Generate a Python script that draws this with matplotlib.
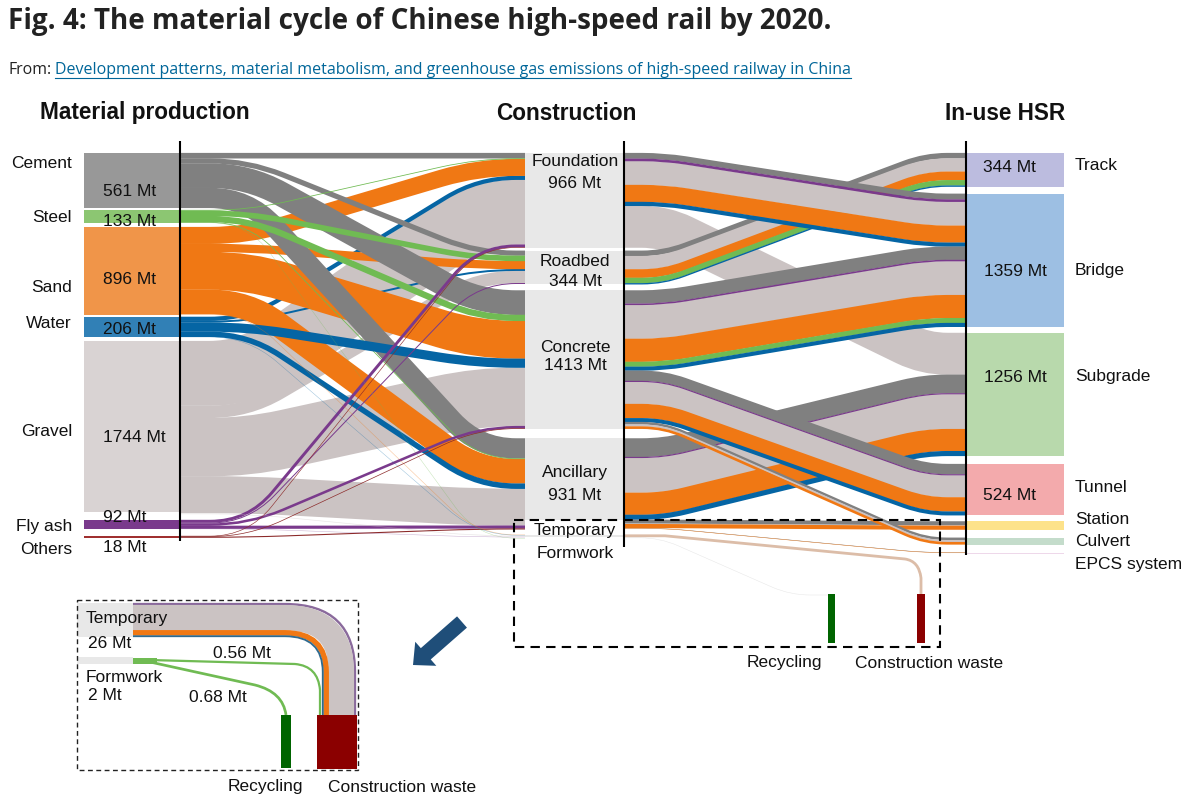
import matplotlib
matplotlib.use("Agg")
import numpy as np
import matplotlib.pyplot as plt
from matplotlib.path import Path
from matplotlib.patches import PathPatch, Rectangle, FancyArrow

# ---------- data (Mt) ----------
materials = ["Cement", "Steel", "Sand", "Water", "Gravel", "Fly ash", "Others"]
material_totals = [561, 133, 896, 206, 1744, 92, 18]
components = ["Foundation", "Roadbed", "Concrete", "Ancillary", "Temporary", "Formwork"]
component_totals = [966, 344, 1413, 931, 26, 2]
component_box_mt = [966, 344, 1413, 830, 26, 2]
elements = ["Track", "Bridge", "Subgrade", "Tunnel", "Station", "Culvert", "EPCS system"]
element_totals = [344, 1359, 1256, 524, 85, 70, 4]
element_value_labels = ["344 Mt", "1359 Mt", "1256 Mt", "524 Mt"]

# material -> component flows (columns follow `components`)
cement_flows = [55, 51, 250, 205, 0, 0]
steel_flows = [6, 55, 62, 6, 0, 2]
sand_flows = [172, 82, 385, 250, 6, 0]
water_flows = [41, 18, 92, 54, 1, 0]
gravel_flows = [660, 125, 595, 375, 17, 0]
flyash_flows = [28, 8, 24, 30, 2, 0]
others_flows = [4, 0, 5, 9, 0, 0]

# component -> element flows, each: (component, element, {material: Mt})
use_flows = [
    ("Foundation", "Bridge", {"Cement": 58, "Fly ash": 25, "Gravel": 243, "Sand": 173, "Water": 41}),
    ("Foundation", "Subgrade", {"Gravel": 426}),
    ("Roadbed", "Track", {"Cement": 55, "Gravel": 135, "Sand": 87, "Steel": 55, "Water": 12}),
    ("Concrete", "Bridge", {"Cement": 135, "Fly ash": 14, "Gravel": 345, "Sand": 235, "Steel": 50, "Water": 40}),
    ("Concrete", "Tunnel", {"Cement": 105, "Fly ash": 10, "Gravel": 225, "Sand": 145, "Water": 39}),
    ("Concrete", "Culvert", {"Cement": 25, "Gravel": 20, "Sand": 25}),
    ("Ancillary", "Subgrade", {"Cement": 190, "Fly ash": 10, "Gravel": 355, "Sand": 225, "Water": 50}),
    ("Ancillary", "Station", {"Cement": 40, "Gravel": 5, "Sand": 40}),
    ("Ancillary", "EPCS system", {"Cement": 2, "Sand": 2}),
]
draw_order = [1, 2, 0, 3, 6, 4, 7, 5, 8]

inset_temp_names = ["Fly ash", "Gravel", "Sand", "Water"]
inset_temp_values = [1.6, 19.2, 4.0, 1.2]
inset_form_values = [0.56, 0.68]

# ---------- style ----------
flow_col = {"Cement": "#808080", "Steel": "#70bb53", "Sand": "#f07814", "Water": "#0565a4",
            "Gravel": "#cbc3c3", "Fly ash": "#7a3a8c", "Others": "#8c2a2a"}
node_col = {"Cement": "#989898", "Steel": "#8cc672", "Sand": "#f09549", "Water": "#3180b6",
            "Gravel": "#d9d3d3", "Fly ash": "#7a3a8c", "Others": "#a03030"}
elem_col = ["#bcbcdf", "#9dbfe3", "#b8d9ac", "#f3aaac", "#fde28a", "#c4dccb", "#eed8ea"]
comp_col = "#e8e8e8"
SCALE = 0.098  # px per Mt
PX = 0.72      # pt per px
Y0 = 153
XS0, XS1 = 84, 180
XC0, XC1 = 525, 624
XE0, XE1 = 966, 1064
src_gaps = [0, 2, 4, 2, 4, 8, 7]
comp_gaps = [0, 3, 6, 9.5, 5, 1]
elem_gaps = [0, 7, 6, 8, 6, 8, 8]

plt.rcParams["font.family"] = ["Liberation Sans", "DejaVu Sans"]
fig = plt.figure(figsize=(12, 8.02), dpi=100)
ax = fig.add_axes([0, 0, 1, 1])
ax.set_xlim(0, 1200)
ax.set_ylim(802, 0)
ax.axis("off")


def stack(totals, gaps, y0=Y0):
    tops, y = [], y0
    for t, g in zip(totals, gaps):
        y += g
        tops.append(y)
        y += t * SCALE
    return tops


def centerline(x0, y0, x1, y1, xa, xb, r):
    A = np.array([xa, y0], float)
    B = np.array([xb, y1], float)
    d = B - A
    L = np.hypot(*d)
    u = d / L
    r = min(r, L / 2, xa - x0, x1 - xb)
    v = [(x0, y0), (xa - r, y0), tuple(A), tuple(A + u * r), tuple(B - u * r), tuple(B), (xb + r, y1), (x1, y1)]
    c = [Path.MOVETO, Path.LINETO, Path.CURVE3, Path.CURVE3, Path.LINETO, Path.CURVE3, Path.CURVE3, Path.LINETO]
    return Path(v, c)


def stroke(path, color, w, z, alpha=1.0):
    ax.add_patch(PathPatch(path, fc="none", ec=color, lw=w * PX, capstyle="butt", joinstyle="round",
                           zorder=z, alpha=alpha))


flows_by_mat = dict(zip(materials, [cement_flows, steel_flows, sand_flows, water_flows,
                                    gravel_flows, flyash_flows, others_flows]))
src_tops = dict(zip(materials, stack(material_totals, src_gaps)))
comp_tops = dict(zip(components, stack(component_totals, comp_gaps)))
elem_tops = dict(zip(elements, stack(element_totals, elem_gaps)))

# node rectangles
for m, t in zip(materials, material_totals):
    ax.add_patch(Rectangle((XS0, src_tops[m]), XS1 - XS0, max(t * SCALE, 2), fc=node_col[m], ec="none", zorder=1))
for c, t in zip(components, component_box_mt):
    ax.add_patch(Rectangle((XC0, comp_tops[c]), XC1 - XC0, t * SCALE, fc=comp_col, ec="none", zorder=1))
for e, t, col in zip(elements, element_totals, elem_col):
    ax.add_patch(Rectangle((XE0, elem_tops[e]), XE1 - XE0, max(t * SCALE, 1), fc=col, ec="none", zorder=1))

# material -> component
left_y = {}
for c_i, c in enumerate(components):
    y = comp_tops[c]
    for m in materials:
        w = flows_by_mat[m][c_i] * SCALE
        left_y[(m, c)] = y + w / 2
        y += w
src_y = {}
for m in materials:
    y = src_tops[m]
    for c_i, c in enumerate(components):
        w = flows_by_mat[m][c_i] * SCALE
        src_y[(m, c)] = y + w / 2
        y += w

mat_z = {"Gravel": 2, "Sand": 3, "Cement": 4, "Steel": 5, "Water": 5.5, "Fly ash": 6, "Others": 6.5}
comp_z = {"Foundation": 0.0, "Roadbed": 0.1, "Ancillary": 0.2, "Concrete": 0.3, "Temporary": 0.4, "Formwork": 0.4}
for m in materials:
    for c_i, c in enumerate(components):
        v = flows_by_mat[m][c_i]
        if v <= 0:
            continue
        w = v * SCALE
        p = centerline(XS1, src_y[(m, c)], XC0, left_y[(m, c)], 248, 478, 38)
        z = mat_z[m] + comp_z[c]
        if m == "Water" and c == "Foundation":
            z = 2.9
        if m == "Water" and c == "Roadbed":
            z = 2.95
        if c in ("Temporary", "Formwork"):
            stroke(p, flow_col[m], max(min(w, 0.7), 0.5), 6.8, 0.4)
        else:
            stroke(p, flow_col[m], w + 0.2, z)

# component -> element
cur_c = {c: comp_tops[c] for c in components}
cur_e = {e: elem_tops[e] for e in elements}
segs = []
for comp, elem, mix in use_flows:
    ya, yb = cur_c[comp], cur_e[elem]
    parts = []
    for m in ["Cement", "Fly ash", "Gravel", "Sand", "Steel", "Water"]:
        if m in mix:
            w = mix[m] * SCALE
            parts.append((m, ya + w / 2, yb + w / 2, w))
            ya += w
            yb += w
    cur_c[comp], cur_e[elem] = ya, yb
    segs.append(parts)
for rank, i in enumerate(draw_order):
    for j, (m, ya, yb, w) in enumerate(segs[i]):
        z = 10 + rank + j * 0.01 + (0.5 if m == "Fly ash" else 0)
        stroke(centerline(XC1, ya, XE0, yb, 664, 925, 22), flow_col[m], w + 0.2, z)

# temporary -> waste, formwork -> recycling/waste
yt = comp_tops["Temporary"] + 1.2
tv = [(XC1, yt), (665, yt), (905, 559), (919, 561), (921, 578), (921, 595)]
tp = Path(tv, [Path.MOVETO, Path.LINETO, Path.LINETO, Path.CURVE3, Path.CURVE3, Path.LINETO])
stroke(tp, "#dcbda8", 2.8, 22)
stroke(centerline(XC1, yt + 2, 831, 595, 660, 790, 20), "#e6e6e6", 0.5, 21)

# recycling and waste bars
ax.add_patch(Rectangle((828, 594), 7, 49, fc="#006400", ec="none", zorder=23))
ax.add_patch(Rectangle((917, 594), 8, 49, fc="#8b0000", ec="none", zorder=23))

# axes-like vertical lines
for x, y1 in [(XS1, 541), (XC1, 547), (XE0, 555)]:
    ax.plot([x, x], [141, y1], color="black", lw=1.5, zorder=30, solid_capstyle="butt")

# dashed boxes
ax.add_patch(Rectangle((514, 519.5), 426, 127, fc="none", ec="black", lw=1.5, ls=(0, (4.5, 3)), zorder=31))
ax.add_patch(Rectangle((77, 600), 281, 170, fc="none", ec="#222222", lw=1.0, ls=(0, (3.5, 2.5)), zorder=31))

# inset
ax.add_patch(Rectangle((77, 603), 56, 34, fc=comp_col, ec="none", zorder=2))
ax.add_patch(Rectangle((77, 657), 56, 7, fc=comp_col, ec="none", zorder=2))
iscale = 34 / 26
y = 603.0
x_end = 356.0
for n, v in zip(inset_temp_names, inset_temp_values):
    w = v * iscale
    yc = y + w / 2
    xc = x_end - w / 2
    pth = Path([(133, yc), (285, yc), (xc, yc), (xc, 672), (xc, 715)],
               [Path.MOVETO, Path.LINETO, Path.CURVE3, Path.CURVE3, Path.LINETO])
    stroke(pth, {"Fly ash": "#8a6a9c", "Water": "#2f6a8f"}.get(n, flow_col[n]), w + 0.3, 3)
    y += w
    x_end -= w
istroke = 4.0
ax.add_patch(Rectangle((133, 658), 24, 6, fc=flow_col["Steel"], ec="none", zorder=3))
g1 = Path([(150, 660), (295, 664), (318, 666), (320, 690), (320, 715)],
          [Path.MOVETO, Path.LINETO, Path.CURVE3, Path.CURVE3, Path.LINETO])
g2 = Path([(150, 662), (255, 685), (283, 692), (286, 715)],
          [Path.MOVETO, Path.LINETO, Path.CURVE3, Path.CURVE3])
stroke(g1, flow_col["Steel"], inset_form_values[0] * istroke, 3)
stroke(g2, flow_col["Steel"], inset_form_values[1] * istroke, 3)
ax.add_patch(Rectangle((281, 715), 10, 53, fc="#006400", ec="none", zorder=4))
ax.add_patch(Rectangle((317, 715), 40, 54, fc="#8b0000", ec="none", zorder=4))
ax.add_patch(FancyArrow(462, 622, -49, 43, width=15, head_width=32, head_length=17,
                        length_includes_head=True, fc="#1f4e79", ec="none", zorder=5))

# ---------- text ----------
def T(x, y, s, ha="left", size=12.5, **kw):
    return ax.text(x, y + 1, s, ha=ha, va="center", fontsize=size, color=kw.pop("color", "#111111"), zorder=40, **kw)


T(8, 20, "Fig. 4: The material cycle of Chinese high-speed rail by 2020.", size=20.05,
  fontweight="bold", family=["Open Sans", "DejaVu Sans"], color="#222222")
T(8, 69, "From:", size=11.4, family=["Open Sans", "DejaVu Sans"], color="#222222")
link = T(55, 69, "Development patterns, material metabolism, and greenhouse gas emissions of high-speed railway in China",
         size=11.5, family=["Open Sans", "DejaVu Sans"], color="#006699")
fig.canvas.draw()
bb = link.get_window_extent().transformed(ax.transData.inverted())
ax.plot([bb.x0, bb.x1], [78, 78], color="#006699", lw=0.8, zorder=40)

for x, s in [(144.5, "Material production"), (566, "Construction"), (1005.5, "In-use HSR")]:
    T(x, 112, s, ha="center", size=16.3, fontweight="bold", color="#111111")

src_label_y = [163, 217, 287, 323, 430, 525, 548]
src_value_y = [190, 220, 278, 329, 436, 516, 547]
for m, t, yl, yv in zip(materials, material_totals, src_label_y, src_value_y):
    T(72, yl, m, ha="right")
    T(103, yv, f"{t} Mt")

comp_label_y = [(161, 183), (261, 280), (346, 365), (472, 494)]
for c, t, (ya, yb) in zip(components, component_totals, comp_label_y):
    T(575, ya, c, ha="center")
    T(575, yb, f"{t} Mt", ha="center")
T(575, 530, components[4], ha="center")
T(575, 553, components[5], ha="center")

for s, x, y in zip(element_value_labels, [983, 984, 984, 983], [167, 270, 376, 495]):
    T(x, y, s)
for e, y in zip(elements, [164, 270, 376, 487, 519, 541, 563]):
    T(1075, y, e)

T(784, 662, "Recycling", ha="center")
T(929, 662, "Construction waste", ha="center")
T(86, 617, "Temporary")
T(88, 642, "26 Mt")
T(213, 652, f"{inset_form_values[0]} Mt")
T(86, 676, "Formwork")
T(88, 694, "2 Mt")
T(189, 697, f"{inset_form_values[1]} Mt")
T(265, 786, "Recycling", ha="center")
T(402, 786, "Construction waste", ha="center")

fig.savefig("out.png", dpi=100)
